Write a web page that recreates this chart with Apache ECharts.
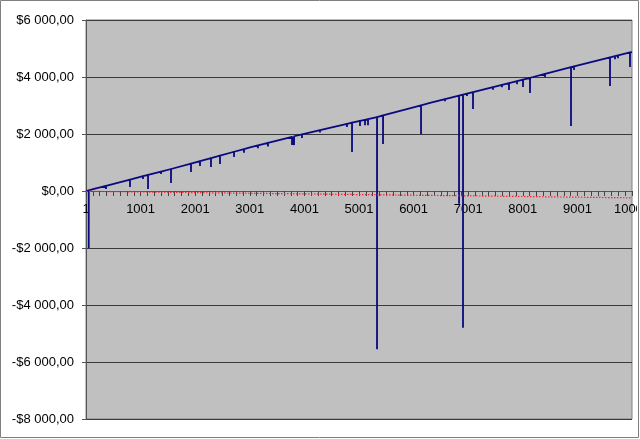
<!DOCTYPE html>
<html>
<head>
<meta charset="utf-8">
<script src="https://cdn.jsdelivr.net/npm/echarts@6/dist/echarts.min.js"></script>
<style>
html,body{margin:0;padding:0;background:#fff;}
#c{width:640px;height:439px;}
</style>
</head>
<body>
<div id="c"></div>
<script>
// Trend knots of the cumulative line (index, value)
var trendIdx = [0, 1557, 3004, 3974, 5330, 6300, 8187, 8883, 10000];
var trendVal = [0, 772, 1530, 2000, 2596, 3088, 4000, 4350, 4877];

// Drawdown spikes: index, value on the trend just before, lowest value
var dipIdx  = [50, 147, 366, 806, 1044, 1136, 1374, 1557, 1923, 2088, 2289, 2454, 2711, 2894, 3150, 3333, 3773, 3810, 3956, 4286, 4780, 4872, 5018, 5110, 5165, 5330, 5440, 6136, 6575, 6832, 6905, 6978, 7088, 7454, 7619, 7747, 7894, 8004, 8132, 8407, 8883, 8938, 9597, 9689, 9744, 9963];
var dipBase = [25, 73, 181, 400, 518, 563, 681, 772, 964, 1050, 1155, 1242, 1377, 1472, 1601, 1689, 1903, 1921, 1991, 2137, 2354, 2395, 2459, 2499, 2523, 2596, 2652, 3005, 3221, 3345, 3380, 3416, 3469, 3646, 3726, 3787, 3858, 3912, 3973, 4111, 4350, 4376, 4687, 4730, 4756, 4860];
var dipLow  = [-2000, 20, 70, 140, 420, 70, 600, 280, 667, 880, 842, 947, 1190, 1340, 1500, 1560, 1614, 1614, 1860, 2050, 2250, 1368, 2280, 2310, 2310, -5550, 1650, 2000, 3150, -450, -4800, 3330, 2877, 3550, 3640, 3544, 3750, 3649, 3438, 4000, 2280, 4245, 3684, 4620, 4660, 4350];

// Red dotted reference line
var redIdx = [0, 10000];
var redVal = [-10, -240];

// Axis ticks
var yTicks = [-8000, -6000, -4000, -2000, 0, 2000, 4000, 6000];

var pts = [];
for (var i = 0; i < trendIdx.length; i++) pts.push([trendIdx[i], trendVal[i]]);
for (var j = 0; j < dipIdx.length; j++) {
  pts.push([dipIdx[j], dipBase[j]]);
  pts.push([dipIdx[j], dipLow[j]]);
  pts.push([dipIdx[j] + 1, dipBase[j]]);
}
pts.sort(function (a, b) { return a[0] - b[0]; });

var redPts = redIdx.map(function (x, k) { return [x, redVal[k]]; });

function fmtMoney(v) {
  var neg = v < 0;
  var a = Math.abs(v);
  var s = String(a).replace(/\B(?=(\d{3})+(?!\d))/g, ' ');
  return (neg ? '-' : '') + '$' + s + ',00';
}

var GRID_TOP = 20, GRID_H = 399;
var yMin = yTicks[0], yMax = yTicks[yTicks.length - 1];
// distance from the bottom of the grid up to the zero line, from the y scale
var zeroOffset = GRID_H * (0 - yMin) / (yMax - yMin);

var chart = echarts.init(document.getElementById('c'), null, {renderer: 'canvas'});
chart.setOption({
  animation: false,
  backgroundColor: '#ffffff',
  grid: {
    left: 86, top: GRID_TOP, width: 546, height: GRID_H,
    outerBoundsMode: 'none', containLabel: false,
    show: true, backgroundColor: '#c0c0c0', borderColor: '#808080', borderWidth: 1
  },
  xAxis: {
    type: 'value', position: 'bottom', offset: -zeroOffset,
    min: 0, max: 10000, interval: 1000,
    axisLine: {onZero: false, lineStyle: {color: '#555555', width: 1}},
    axisTick: {show: true, length: 5, lineStyle: {color: '#444444'}},
    minorTick: {show: true, splitNumber: 8, length: 5, lineStyle: {color: '#444444'}},
    axisLabel: {
      margin: 12, color: '#000000', fontFamily: 'Liberation Sans, Arial', fontSize: 13,
      showMinLabel: true, showMaxLabel: true, hideOverlap: false,
      formatter: function (v) { return String(v + 1); }
    },
    splitLine: {show: false}
  },
  yAxis: {
    type: 'value',
    min: yMin, max: yMax, interval: 2000,
    axisLine: {show: true, lineStyle: {color: '#555555', width: 1}},
    axisTick: {show: true, length: 4, lineStyle: {color: '#555555'}},
    axisLabel: {
      margin: 12, color: '#000000', fontFamily: 'Liberation Sans, Arial', fontSize: 13,
      formatter: fmtMoney
    },
    splitLine: {show: true, lineStyle: {color: '#3a3a3a', width: 1}}
  },
  series: [
    {
      type: 'line', data: redPts, symbol: 'none', z: 5,
      lineStyle: {color: '#ff2030', width: 1.2, type: [1.5, 1.5]}
    },
    {
      type: 'line', data: pts, symbol: 'none', z: 3,
      lineStyle: {color: '#0a0a80', width: 1.8}
    }
  ],
  graphic: [
    {type: 'rect', z: 100, shape: {x: 637, y: 0, width: 3, height: 439}, style: {fill: '#ffffff'}},
    {type: 'rect', z: 101, shape: {x: 0.5, y: 0.5, width: 638, height: 437}, style: {fill: 'none', stroke: '#808080', lineWidth: 1}}
  ]
});
</script>
</body>
</html>
